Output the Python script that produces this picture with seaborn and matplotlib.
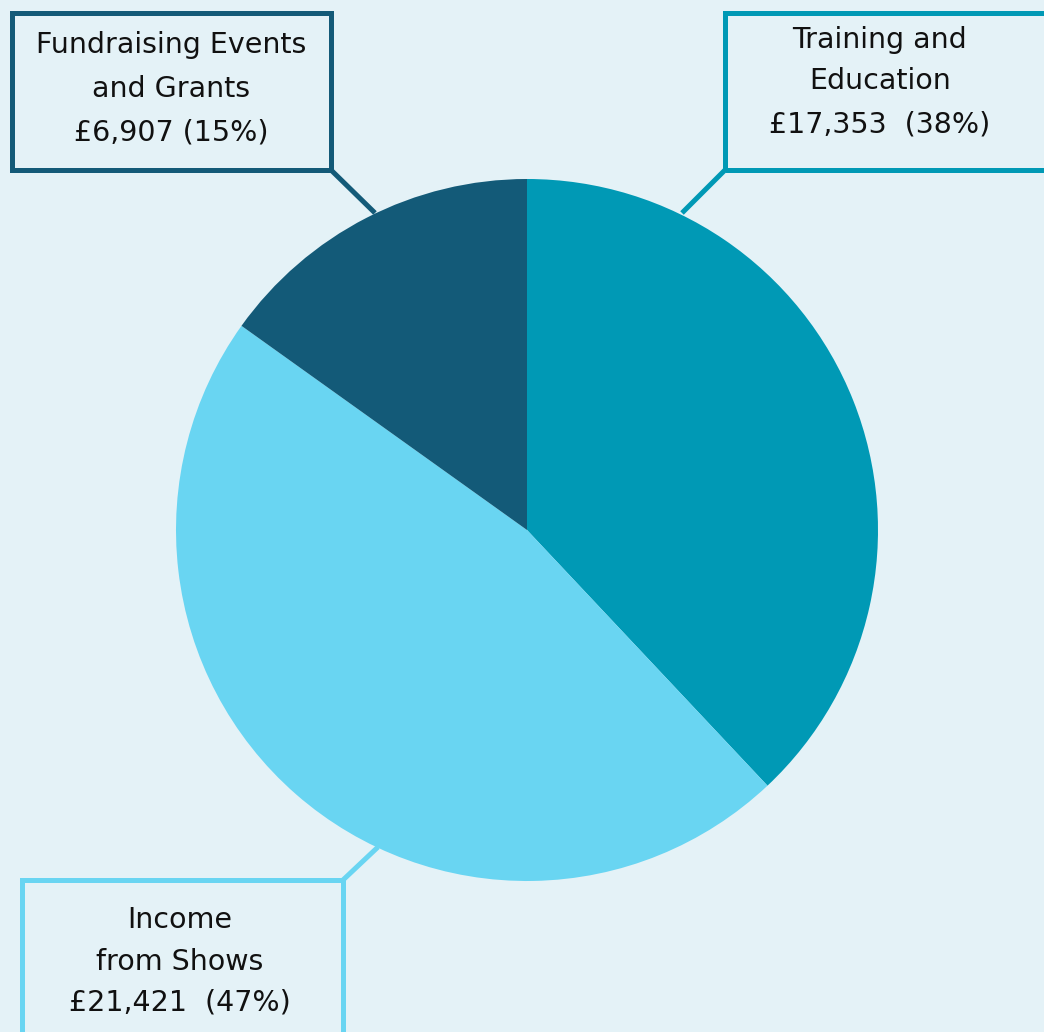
import matplotlib
matplotlib.use("Agg")
import matplotlib.pyplot as plt
import seaborn as sns
from matplotlib.patches import Rectangle
import numpy as np

categories = ["Training and\nEducation", "Income\nfrom Shows", "Fundraising Events\nand Grants"]
values = [17353, 21421, 6907]
pct_labels = ["£17,353  (38%)", "£21,421  (47%)", "£6,907 (15%)"]
colors = ["#0099B5", "#69D5F2", "#135A78"]

BG = "#E4F2F7"
sns.set_theme(style="white")
plt.rcParams["font.family"] = ["DejaVu Sans"]

W, H = 1044, 1032
fig = plt.figure(figsize=(W / 100, H / 100), dpi=100, facecolor=BG)
ax = fig.add_axes([0, 0, 1, 1])
ax.set_facecolor(BG)

cx, cy, r = 527, H - 530, 351
ax.pie(values, colors=colors, startangle=90, counterclock=False,
       center=(cx, cy), radius=r, wedgeprops=dict(linewidth=0))

ax.set_xlim(0, W)
ax.set_ylim(0, H)
ax.set_aspect("equal")
ax.axis("off")

def Y(y):
    return H - y

lw = 3.6
# boxes: (x0, y0, x1, y1) in pixel coords (top-left origin)
boxes = [
    (725, 13, 1050, 170),   # Training
    (22, 880, 343, 1040),   # Shows
    (12, 13, 331, 170),     # Fundraising
]
leaders = [
    ((725, 170), (682, 213)),
    ((343, 880), (378, 847)),
    ((331, 170), (375, 213)),
]
text_pos = [
    (880, [40, 81, 124]),
    (180, [920, 962, 1003]),
    (171, [45, 89, 133]),
]

for i in range(3):
    x0, y0, x1, y1 = boxes[i]
    ax.add_patch(Rectangle((x0, Y(y1)), x1 - x0, y1 - y0, fill=False,
                           edgecolor=colors[i], linewidth=lw, clip_on=False,
                           joinstyle="miter"))
    (ax_, ay_), (bx_, by_) = leaders[i]
    ax.plot([ax_, bx_], [Y(ay_), Y(by_)], color=colors[i], linewidth=lw,
            solid_capstyle="butt")
    tx, tys = text_pos[i]
    lines = categories[i].split("\n") + [pct_labels[i]]
    for line, ty in zip(lines, tys):
        ax.text(tx, Y(ty), line, ha="center", va="center", fontsize=20.5,
                color="#111111")

fig.savefig("out.png", dpi=100, facecolor=BG)
